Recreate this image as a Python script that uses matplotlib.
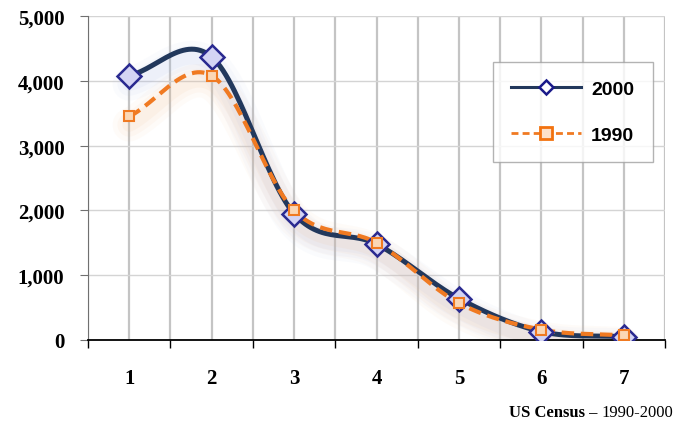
import numpy as np
import matplotlib
matplotlib.use("Agg")
import matplotlib.pyplot as plt
from matplotlib.lines import Line2D

categories = [1, 2, 3, 4, 5, 6, 7]
values_2000 = [4080, 4370, 1950, 1480, 640, 130, 50]
values_1990 = [3450, 4080, 2000, 1500, 570, 160, 70]
yticks = [0, 1000, 2000, 3000, 4000, 5000]
ytick_labels = ["0", "1,000", "2,000", "3,000", "4,000", "5,000"]


def smooth(x, y, n=30):
    x = np.asarray(x, float); y = np.asarray(y, float)
    px = np.concatenate([[2 * x[0] - x[1]], x, [2 * x[-1] - x[-2]]])
    py = np.concatenate([[2 * y[0] - y[1]], y, [2 * y[-1] - y[-2]]])
    xs, ys = [], []
    t = np.linspace(0, 1, n)
    for i in range(1, len(px) - 2):
        p0, p1, p2, p3 = [np.array([px[j], py[j]]) for j in (i - 1, i, i + 1, i + 2)]
        pts = 0.5 * ((2 * p1)[:, None] + (-p0 + p2)[:, None] * t
                     + (2 * p0 - 5 * p1 + 4 * p2 - p3)[:, None] * t ** 2
                     + (-p0 + 3 * p1 - 3 * p2 + p3)[:, None] * t ** 3)
        xs.extend(pts[0]); ys.extend(pts[1])
    return np.array(xs), np.array(ys)


fig = plt.figure(figsize=(6.75, 4.27), dpi=100)
ax = fig.add_axes([88 / 675, 1 - 341 / 427, 577 / 675, 324 / 427])

ax.set_xlim(0.5, 7.5)
ax.set_ylim(0, 5000)

# grid
for xv in np.arange(0.5, 7.51, 0.5):
    ax.axvline(xv, color="#c4c4c4", lw=1.6, zorder=0)
for yv in yticks[1:]:
    ax.axhline(yv, color="#d4d4d4", lw=1.0, zorder=0)

sx2, sy2 = smooth(categories, values_2000)
sx9, sy9 = smooth(categories, values_1990)

# soft glow
for w, a in [(24, 0.05), (17, 0.07), (10, 0.09)]:
    ax.plot(sx2, sy2 - 130, color="#a8b8e8", lw=w, alpha=a, solid_capstyle="round", zorder=1)
    ax.plot(sx9, sy9 - 130, color="#f0b888", lw=w, alpha=a, solid_capstyle="round", zorder=1)

ax.plot(sx2, sy2, color="#22385c", lw=3.6, zorder=3, solid_capstyle="round")
ax.plot(sx9, sy9, color="#f07a22", lw=3.0, ls=(0, (3, 1.6)), zorder=4)
ax.plot(categories, values_2000, ls="none", marker="D", ms=12, mfc="#d4d4f4",
        mec="#2a2a90", mew=1.8, zorder=5)
ax.plot(categories, values_1990, ls="none", marker="s", ms=7, mfc="#fbd7b5",
        mec="#f07a22", mew=1.5, zorder=6)

for s in ["top", "right"]:
    ax.spines[s].set_visible(False)
ax.spines["left"].set_color("#707070")
ax.spines["bottom"].set_color("black")
ax.spines["bottom"].set_linewidth(1.3)

ax.set_yticks(yticks)
ax.set_yticklabels(ytick_labels, fontfamily="Liberation Serif", fontweight="bold", fontsize=15)
ax.tick_params(axis="y", length=6, color="#707070", pad=11)
ax.set_xticks(categories)
ax.set_xticklabels([str(c) for c in categories], fontfamily="Liberation Serif",
                   fontweight="bold", fontsize=15)
ax.tick_params(axis="x", length=0, pad=20)
ax.set_xticks(np.arange(0.5, 7.51, 1.0), minor=True)
ax.tick_params(axis="x", which="minor", length=6, color="black", width=1)

handles = [
    Line2D([], [], color="#22385c", lw=2.2, marker="D", ms=7, mfc="white", mec="#1a1a8a", mew=1.8),
    Line2D([], [], color="#f07a22", lw=2.0, ls=(0, (2.5, 1.5)), marker="s", ms=8, mfc="#fde0c8",
           mec="#f2720f", mew=2),
]
leg = fig.legend(handles, ["2000", "1990"], loc="upper left",
                 bbox_to_anchor=(493 / 675, 1 - 63 / 427), prop={"family": "Liberation Sans",
                                                                 "weight": "bold", "size": 14},
                 frameon=True, fancybox=False, edgecolor="#a0a0a0", borderpad=0.95,
                 labelspacing=1.45, handlelength=3.6, handletextpad=0.5, borderaxespad=0)
leg.get_frame().set_linewidth(1.0)

t2 = fig.text(673 / 675, 1 - 413 / 427, "1990-2000", ha="right", va="center",
              fontfamily="Liberation Serif", fontsize=12)
fig.canvas.draw()
bb = t2.get_window_extent(renderer=fig.canvas.get_renderer())
fig.text(bb.x0 / fig.bbox.width, 1 - 413 / 427, "US Census \u2013 ", ha="right", va="center",
         fontfamily="Liberation Serif", fontweight="bold", fontsize=12)

fig.savefig("out.png", dpi=100)
